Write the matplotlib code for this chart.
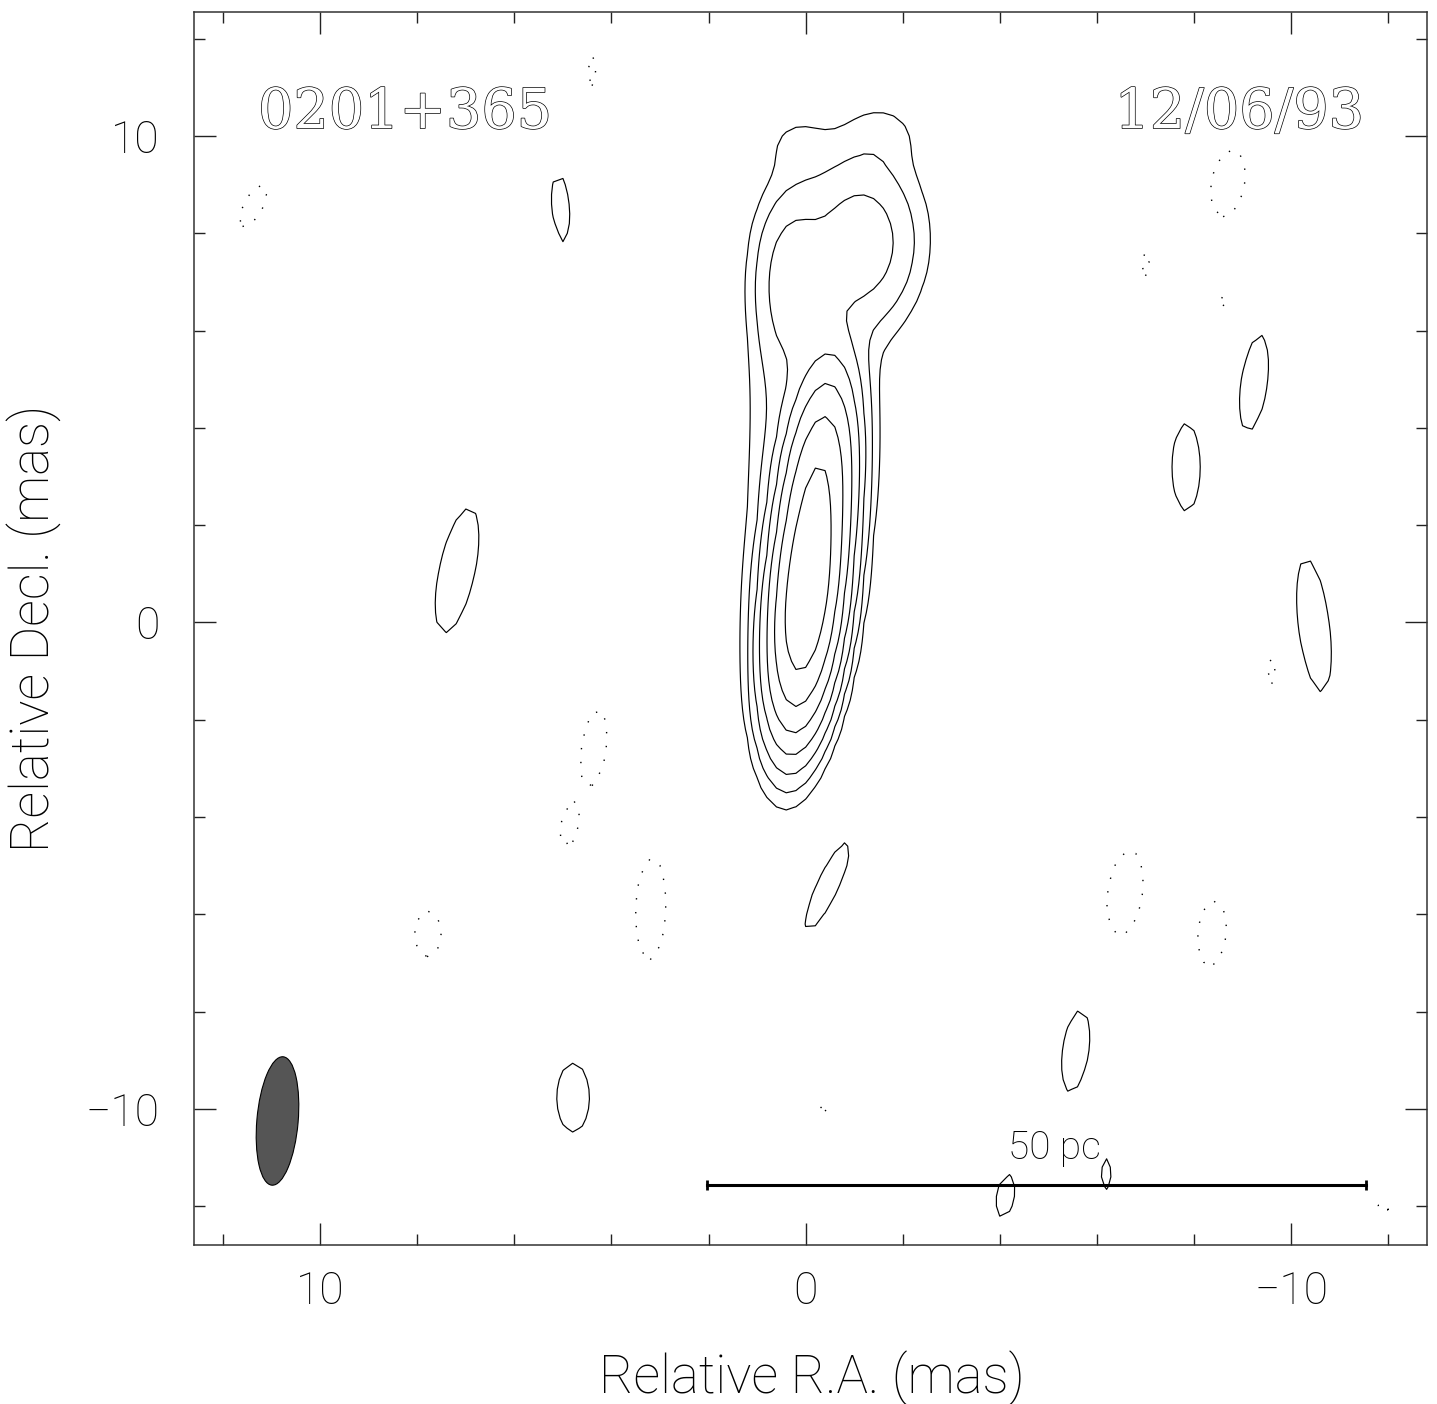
import numpy as np
import matplotlib
matplotlib.use("Agg")
import matplotlib.pyplot as plt
from matplotlib.patches import Ellipse
from matplotlib.ticker import MultipleLocator
import matplotlib.patheffects as pe

# VLBA map of 0201+365, epoch 12/06/93
# image is rebuilt from elliptical gaussian components
# (x, y in mas, amplitude in units of the lowest contour, sigmas in mas, PA in deg)
comp_x = [0.00, -0.24, 0.30, -1.20, -0.90, 0.00, -1.60, 0.20, 0.60]
comp_y = [0.33, 2.66, 7.00, 7.80, 7.90, 2.50, 10.10, 9.90, 5.00]
comp_amp = [100.0, 57.0, 4.8, 4.2, 1.6, 2.0, 0.9, 0.8, 0.9]
comp_sx = [0.38, 0.38, 0.45, 0.65, 1.10, 0.90, 0.60, 0.50, 0.40]
comp_sy = [1.35, 1.35, 1.10, 1.00, 1.30, 3.00, 0.50, 0.45, 1.50]
comp_pa = [-6, -6, 0, 0, -10, -5, 0, 0, 0]

# isolated noise peaks (positive = solid, negative = dotted)
blob_x = [5.04, 7.18, -9.24, -7.84, -10.47, -0.45, -5.56, 4.79, -4.12, -6.18,
          11.38, 4.38, -8.70, -7.02, -8.62, -9.60, 4.36, 4.88, 3.19, 7.78,
          -6.58, -8.37, -0.33, -11.90]
blob_y = [8.52, 1.07, 4.92, 3.19, -0.06, -5.43, -8.81, -9.77, -11.79, -11.34,
          8.56, 11.34, 9.03, 7.37, 6.62, -1.00, -2.57, -4.20, -5.89, -6.40,
          -5.56, -6.39, -9.94, -12.07]
blob_amp = [1.6] * 10 + [-1.6] * 14
blob_sx = [0.19, 0.38, 0.28, 0.30, 0.33, 0.22, 0.28, 0.35, 0.19, 0.12,
           0.20, 0.08, 0.35, 0.08, 0.04, 0.06, 0.26, 0.16, 0.32, 0.28,
           0.37, 0.30, 0.12, 0.11]
blob_sy = [0.72, 1.35, 1.03, 0.93, 1.42, 1.00, 0.88, 0.73, 0.46, 0.33,
           0.50, 0.33, 0.72, 0.26, 0.16, 0.27, 0.82, 0.43, 1.08, 0.49,
           0.90, 0.69, 0.14, 0.29]
blob_pa = [5, -12, -8, 0, 7, -25, -8, 0, -10, 0,
           -28, 0, -10, 0, 0, 0, -7, -8, -2, 0,
           -8, -5, 0, 0]

levels = [1, 2, 4, 8, 16, 32, 64]
neg_levels = [-1]

# restoring beam
beam_x, beam_y = 10.88, -10.25
beam_min, beam_maj, beam_pa = 0.85, 2.65, -5

# 50 pc scale bar
bar_x0, bar_x1, bar_y = 2.04, -11.54, -11.56
bar_label = "50 pc"


def gauss(X, Y, x0, y0, a, sx, sy, pa):
    t = np.radians(pa)
    u = (X - x0) * np.cos(t) - (Y - y0) * np.sin(t)
    v = (X - x0) * np.sin(t) + (Y - y0) * np.cos(t)
    return a * np.exp(-0.5 * (u**2 / sx**2 + v**2 / sy**2))


xg = np.arange(-13.0, 13.01, 0.2)
yg = np.arange(-13.0, 13.01, 0.2)
X, Y = np.meshgrid(xg, yg)
Z = np.zeros_like(X)
for p in zip(comp_x, comp_y, comp_amp, comp_sx, comp_sy, comp_pa):
    Z += gauss(X, Y, *p)
for p in zip(blob_x, blob_y, blob_amp, blob_sx, blob_sy, blob_pa):
    Z += gauss(X, Y, *p)

plt.rcParams['font.family'] = ['Roboto', 'DejaVu Sans']
plt.rcParams['font.weight'] = 'light'
plt.rcParams['axes.labelweight'] = 'light'

fig = plt.figure(figsize=(14.37, 14.04), dpi=100)
ax = fig.add_axes([194 / 1437, 159 / 1404, 1233 / 1437, 1233 / 1404])

ax.contour(X, Y, Z, levels=levels, colors='k', linewidths=0.85)
ax.contour(X, Y, Z, levels=neg_levels, colors='k', linewidths=1.0,
           linestyles=[(0, (1, 9))])

ax.add_patch(Ellipse((beam_x, beam_y), width=beam_min, height=beam_maj,
                     angle=-beam_pa, facecolor='#555555', edgecolor='k', lw=0.8))

ax.plot([bar_x0, bar_x1], [bar_y, bar_y], color='k', lw=2.2,
        marker='|', markersize=7, markeredgewidth=2)
ax.text((bar_x0 + bar_x1) / 2 - 0.38, bar_y + 0.74, bar_label, ha='center',
        va='center', fontsize=28)

outline = [pe.Stroke(linewidth=1.0, foreground='k'), pe.Normal()]
ax.text(11.28, 10.16, "0201+365", ha='left', va='baseline', fontsize=40,
        family='DejaVu Serif', color='white', path_effects=outline)
ax.text(-11.5, 10.16, "12/06/93", ha='right', va='baseline', fontsize=40,
        family='DejaVu Serif', color='white', path_effects=outline)

ax.set_xlim(12.6, -12.8)
ax.set_ylim(-12.8, 12.55)

ax.xaxis.set_major_locator(MultipleLocator(10))
ax.xaxis.set_minor_locator(MultipleLocator(2))
ax.yaxis.set_major_locator(MultipleLocator(10))
ax.yaxis.set_minor_locator(MultipleLocator(2))
ax.tick_params(which='both', direction='in', top=True, right=True, color='#222222')
ax.tick_params(which='major', length=16, width=1.0, labelsize=32)
ax.tick_params(which='minor', length=8, width=1.0)
ax.tick_params(axis='x', which='major', pad=18)
ax.tick_params(axis='y', which='major', pad=25)
for s in ax.spines.values():
    s.set_linewidth(1.1)
    s.set_color('#333333')

ax.set_xlabel("Relative R.A. (mas)", fontsize=38, va='center', weight='light')
ax.xaxis.set_label_coords(0.501, -0.108)
ax.set_ylabel("Relative Decl. (mas)", fontsize=38, va='center', weight='light')
ax.yaxis.set_label_coords(-0.129, 0.5)

fig.savefig("out.png", dpi=100)
